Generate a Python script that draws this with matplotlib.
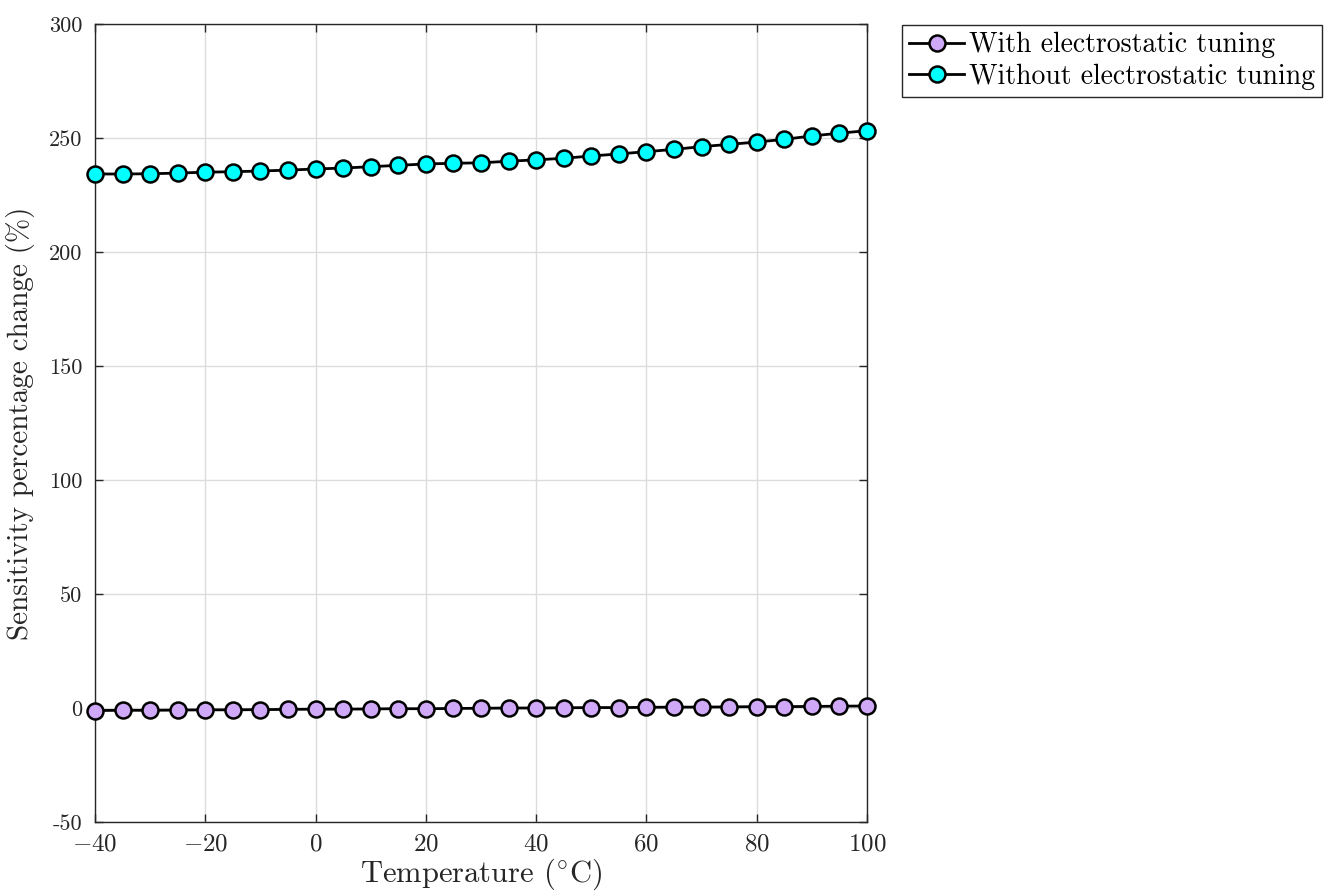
import matplotlib
matplotlib.use("Agg")
import matplotlib.pyplot as plt

# Temperature sweep (deg C)
temperature = [-40, -35, -30, -25, -20, -15, -10, -5, 0, 5, 10, 15, 20, 25, 30,
               35, 40, 45, 50, 55, 60, 65, 70, 75, 80, 85, 90, 95, 100]

# Sensitivity percentage change (%)
with_tuning = [-1.1, -1.0, -1.0, -0.9, -0.8, -0.8, -0.7, -0.6, -0.5, -0.5, -0.4,
               -0.3, -0.3, -0.2, -0.1, 0.0, 0.0, 0.1, 0.2, 0.2, 0.3, 0.4, 0.4,
               0.5, 0.6, 0.6, 0.7, 0.8, 0.9]
without_tuning = [234.2, 234.2, 234.3, 234.6, 235.0, 235.2, 235.5, 235.9, 236.4,
                  236.8, 237.4, 238.0, 238.6, 238.9, 239.1, 239.8, 240.4, 241.1,
                  242.1, 243.0, 244.0, 245.0, 246.2, 247.2, 248.2, 249.4, 250.9,
                  252.1, 253.2]

xticks = [-40, -20, 0, 20, 40, 60, 80, 100]
yticks = [-50, 0, 50, 100, 150, 200, 250, 300]

plt.rcParams["font.family"] = ["cmr10", "DejaVu Serif"]
plt.rcParams["mathtext.fontset"] = "cm"
plt.rcParams["axes.unicode_minus"] = False

fig = plt.figure(figsize=(13.29, 8.94), dpi=100)
ax = fig.add_axes([0.0715, 0.0805, 0.5809, 0.8927])

ax.plot(temperature, with_tuning, "-o", color="black", lw=2,
        markersize=11.5, markerfacecolor="#CFA8F7", markeredgecolor="black",
        markeredgewidth=1.8, label="With electrostatic tuning", clip_on=False, zorder=3)
ax.plot(temperature, without_tuning, "-o", color="black", lw=2,
        markersize=11.5, markerfacecolor="#00FFFF", markeredgecolor="black",
        markeredgewidth=1.8, label="Without electrostatic tuning", clip_on=False, zorder=3)

ax.set_xlim(-40, 100)
ax.set_ylim(-50, 300)
ax.set_xticks(xticks)
ax.set_xticklabels([f"${t}$" for t in xticks], fontsize=18)
ax.set_yticks(yticks)
ax.set_yticklabels([str(t) for t in yticks], fontsize=16)
ax.tick_params(direction="in", length=6, width=1, colors="#262626", top=True, right=True,
               labelcolor="#262626")
ax.tick_params(axis="x", pad=8)
ax.tick_params(axis="y", pad=9)
ax.grid(True, color="#DCDCDC", lw=1)
ax.set_axisbelow(True)
for s in ax.spines.values():
    s.set_color("#262626")
    s.set_linewidth(1)

ax.set_xlabel(r"Temperature ($^{\circ}$C)", fontsize=22, color="#262626", labelpad=1)
ax.set_ylabel("Sensitivity percentage change (%)", fontsize=21, color="#262626", labelpad=10)

leg = fig.legend(loc="upper left", bbox_to_anchor=(0.6787, 0.972), fontsize=20,
                 frameon=True, fancybox=False, edgecolor="#262626", framealpha=1,
                 handlelength=2.0, handletextpad=0.15, borderpad=0.25, labelspacing=0.2,
                 borderaxespad=0)
leg.get_frame().set_linewidth(1)

fig.savefig("out.png", dpi=100)
